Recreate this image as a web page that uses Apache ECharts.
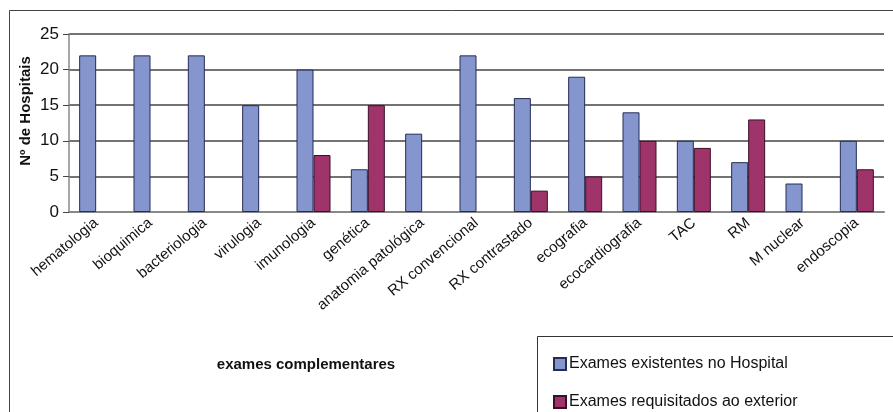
<!DOCTYPE html>
<html><head><meta charset="utf-8">
<script src="https://cdn.jsdelivr.net/npm/echarts@6/dist/echarts.min.js"></script>
<style>html,body{margin:0;padding:0;background:#fff}#c{width:893px;height:412px}</style>
</head><body><div id="c"></div>
<script>
const categories = ['hematologia','bioquimica','bacteriologia','virulogia','imunologia','genética','anatomia patológica','RX convencional','RX contrastado','ecografia','ecocardiografia','TAC','RM','M nuclear','endoscopia'];
const existentes = [22,22,22,15,20,6,11,22,16,19,14,10,7,4,10];
const requisitados = [null,null,null,null,8,15,null,null,3,5,10,9,13,null,6];
const seriesNames = ['Exames existentes no Hospital','Exames requisitados ao exterior'];
const xTitle = 'exames complementares';
const yTitle = 'Nº de Hospitais';
const yTicks = {min:0,max:25,interval:5};

const chart = echarts.init(document.getElementById('c'));
const font = 'Liberation Sans, Arial, sans-serif';
chart.setOption({
  animation:false,
  textStyle:{fontFamily:font},
  title:{text:xTitle,left:306,top:357,textAlign:'center',padding:0,
    textStyle:{fontWeight:'bold',fontSize:15,color:'#111',fontFamily:font}},
  grid:{left:69,right:9,top:34,bottom:200,containLabel:false},
  legend:{
    orient:'vertical',left:553,top:356,padding:0,itemGap:22,
    itemWidth:12,itemHeight:12,
    icon:'rect',
    textStyle:{fontSize:16,color:'#111',fontFamily:font,padding:[0,0,0,-2]},
    data:seriesNames
  },
  xAxis:{
    type:'category',data:categories,
    axisLine:{lineStyle:{color:'#888',width:2}},
    axisTick:{show:false},
    axisLabel:{rotate:40,fontSize:15,color:'#111',interval:0,margin:9}
  },
  yAxis:{
    type:'value',min:yTicks.min,max:yTicks.max,interval:yTicks.interval,
    name:yTitle,nameLocation:'middle',nameGap:36,nameMoveOverlap:false,
    nameTextStyle:{fontWeight:'bold',fontSize:15,color:'#111',padding:[0,0,0,24]},
    axisLine:{show:true,lineStyle:{color:'#888',width:1.5}},
    axisTick:{show:true,length:6,lineStyle:{color:'#444'}},
    axisLabel:{fontSize:17,color:'#111',margin:10},
    splitLine:{lineStyle:{color:'#444',width:1.5}}
  },
  series:[
    {name:seriesNames[0],type:'bar',data:existentes,barWidth:17,barGap:'0%',
     itemStyle:{color:'#8596cf',borderColor:'#252d55',borderWidth:1}},
    {name:seriesNames[1],type:'bar',data:requisitados,barWidth:17,barGap:'0%',
     itemStyle:{color:'#9e346a',borderColor:'#3a1028',borderWidth:1}}
  ],
  graphic:[
    {type:'rect',shape:{x:9.5,y:10.5,width:900,height:420},style:{fill:null,stroke:'#444',lineWidth:1},silent:true,z:-1},
    {type:'rect',shape:{x:537.5,y:336.5,width:400,height:100},style:{fill:null,stroke:'#333',lineWidth:1},silent:true,z:-1}
  ]
});
</script></body></html>
